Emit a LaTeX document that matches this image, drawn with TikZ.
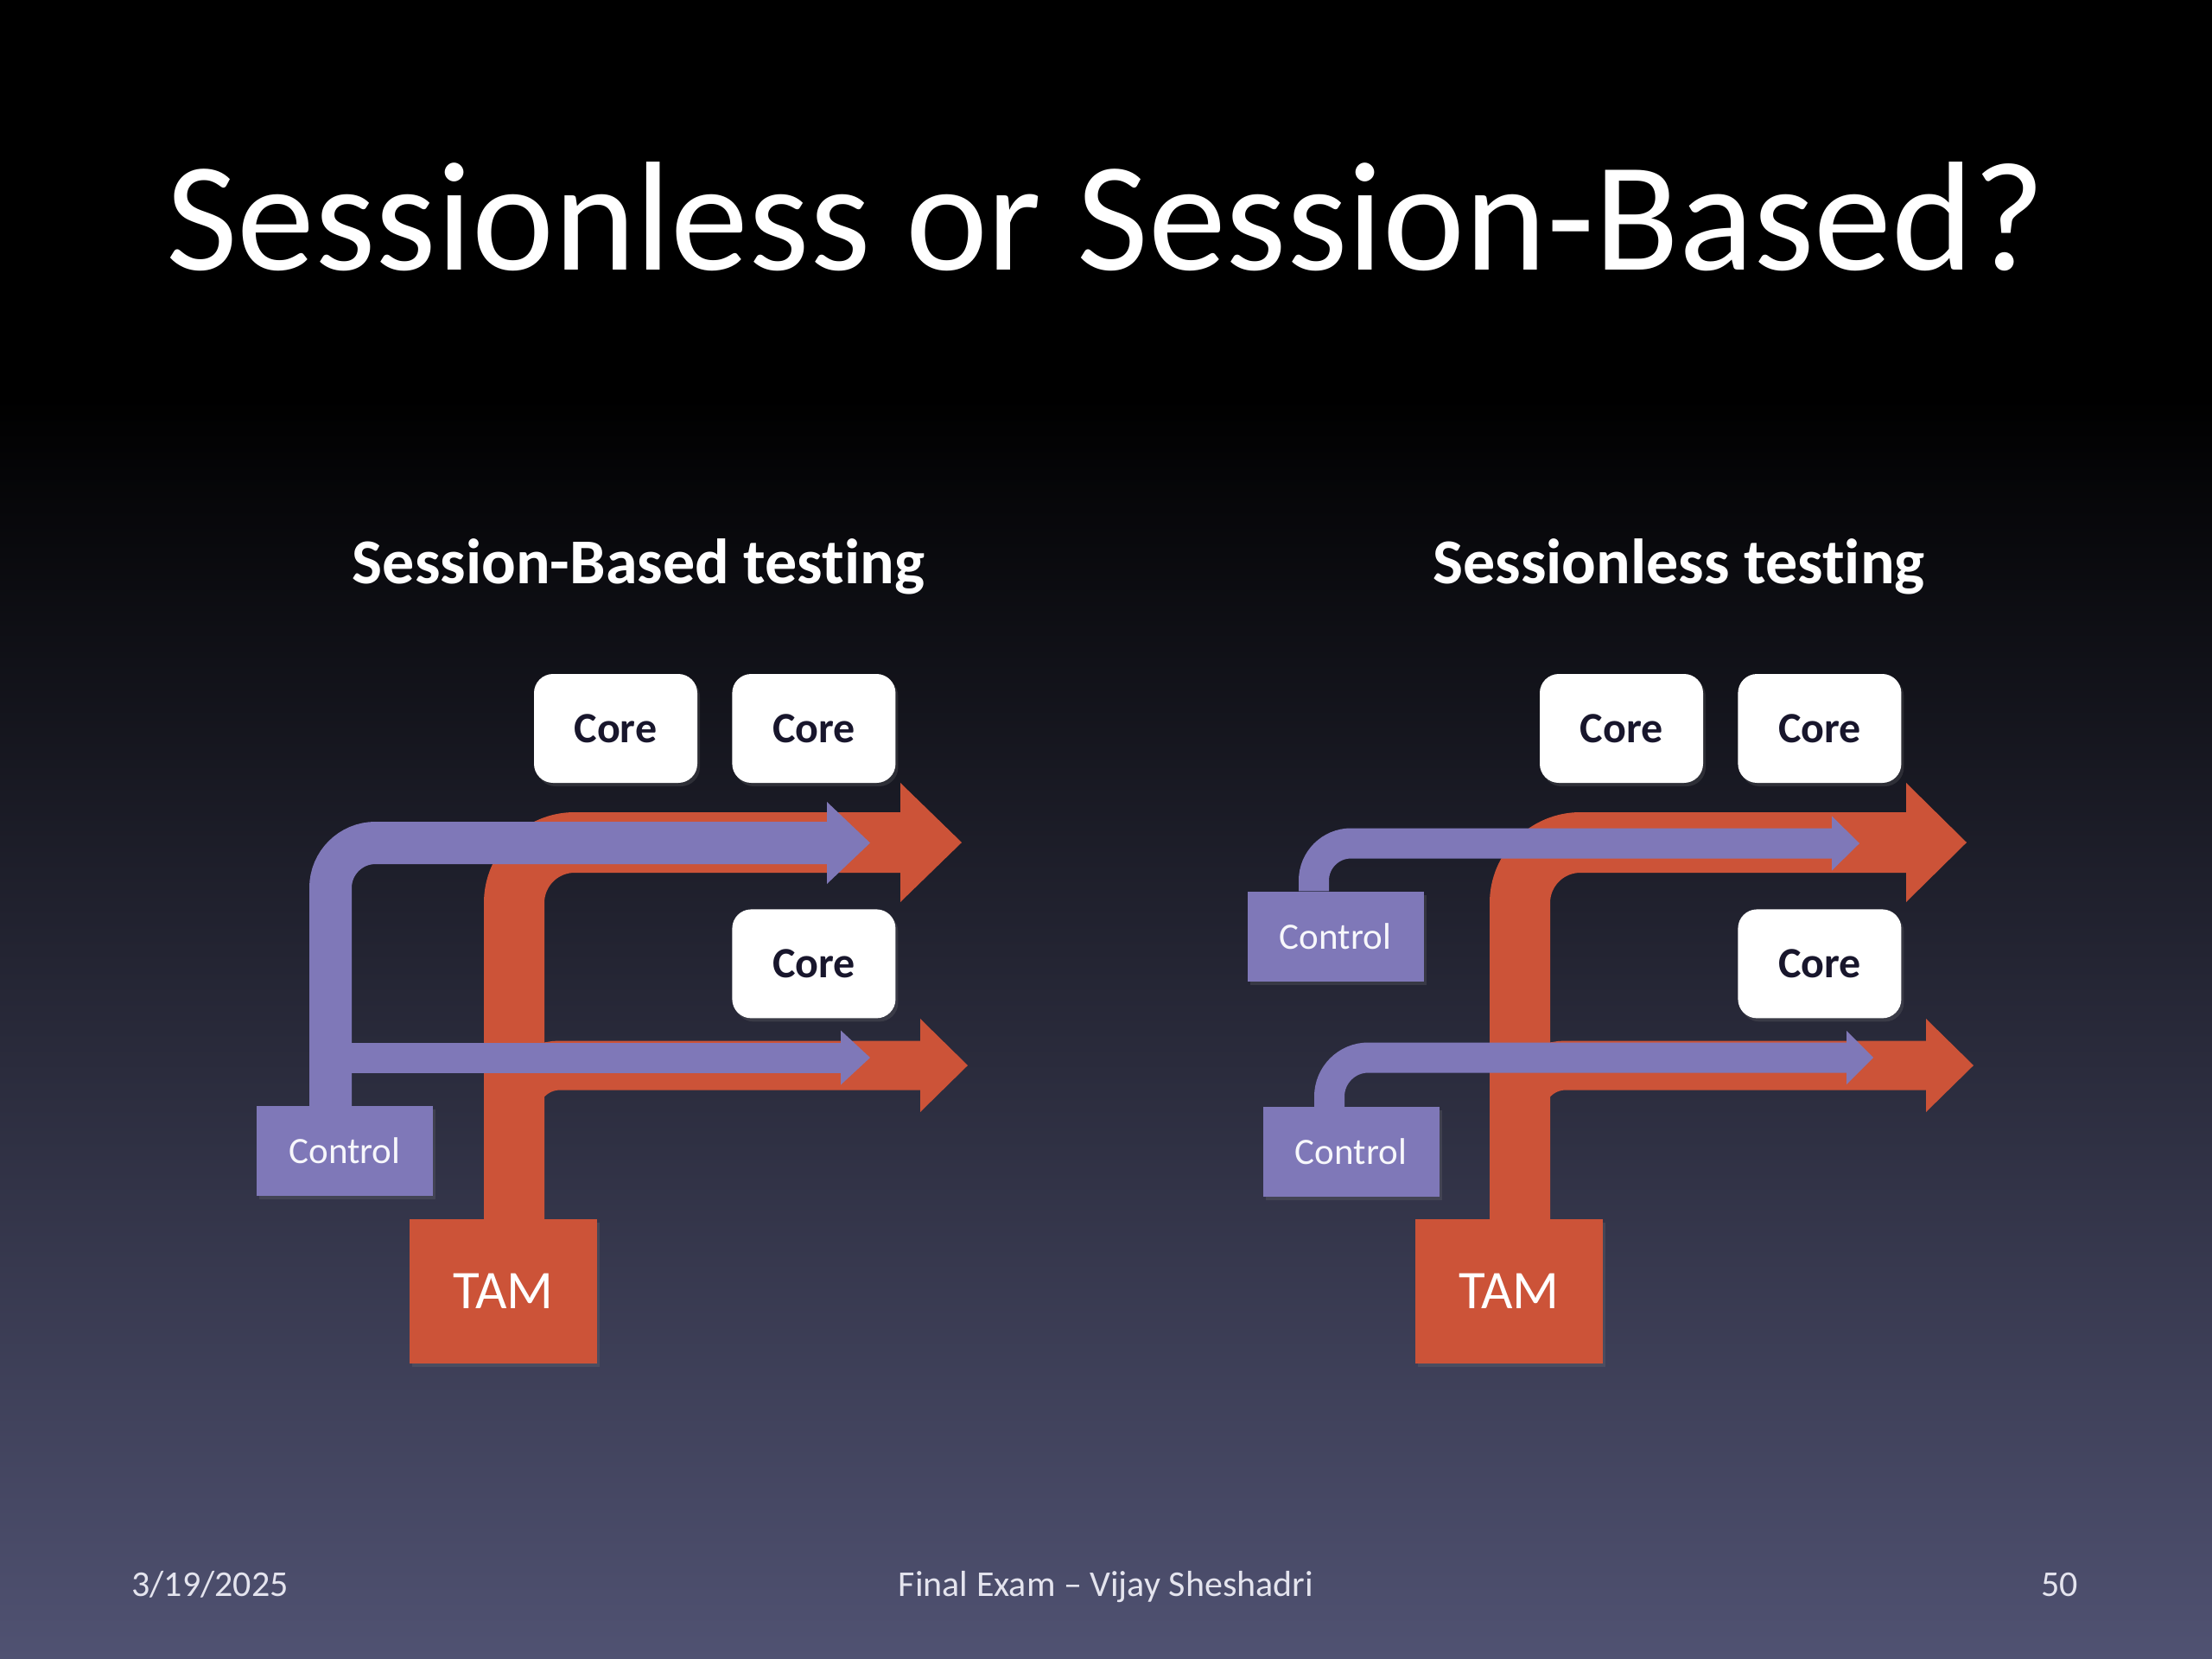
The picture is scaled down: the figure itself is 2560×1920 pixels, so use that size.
\documentclass[tikz,border=0pt]{standalone}
\usepackage{fontspec}
\setmainfont{Carlito}[Ligatures={TeX,NoCommon}]
\usetikzlibrary{positioning,shadows}

\definecolor{tamred}{RGB}{204,83,56}
\definecolor{ctrlpurple}{RGB}{127,120,184}
\definecolor{coreink}{RGB}{24,22,44}
\definecolor{slidemid}{RGB}{34,32,60}
\definecolor{slidebot}{RGB}{80,82,114}
\definecolor{footink}{RGB}{228,228,238}

\begin{document}
\begin{tikzpicture}[x=1pt, y=-1pt,
		boxshadow/.style={drop shadow={shadow xshift=3pt, shadow yshift=-4pt, opacity=0.22}},
		corebox/.style={boxshadow, fill=white, rounded corners=22pt, minimum width=189pt, minimum height=126pt,
			font=\fontsize{50}{60}\selectfont\bfseries, text=coreink},
		ctrlbox/.style={boxshadow, fill=ctrlpurple, minimum width=204pt, minimum height=104pt,
			font=\fontsize{43}{50}\selectfont, text=white!94!ctrlpurple},
		tambox/.style={boxshadow, fill=tamred, minimum width=217pt, minimum height=167pt,
			font=\fontsize{63}{72}\selectfont, text=white},
		subhead/.style={font=\fontsize{74}{84}\selectfont\bfseries, text=white, inner sep=0pt},
		foot/.style={font=\fontsize{42}{50}\selectfont, text=footink, inner sep=0pt},
		redpipe/.style={draw=tamred, shorten >=-2pt},
		purplepipe/.style={draw=ctrlpurple, shorten >=-2pt}]

		% 1. Slide background (black top, fading to slate at the bottom)
		\useasboundingbox (0,0) rectangle (2560,1920);
		\fill[black] (0,0) rectangle (2560,470);
		\shade[top color=black, middle color=slidemid, bottom color=slidebot] (0,460) rectangle (2560,1920);

		% 2. Titles
		\node[font=\fontsize{180}{196}\selectfont, text=white, anchor=base] (title) at (1280,312) {Sessionless or Session-Based?};
		\node[subhead, anchor=base] (headL) at (739,675) {Session-Based testing};
		\node[subhead, anchor=base] (headR) at (1943,675) {Sessionless testing};

		% 3. Left picture: boxes
		\node[corebox] (coreLa) at (712.5,843) {Core};
		\node[corebox, right=40pt of coreLa] (coreLb) {Core};
		\node[corebox, below=146pt of coreLb] (coreLc) {Core};
		\node[ctrlbox] (ctrlL) at (399,1332) {Control};
		\node[tambox] (tamL) at (582.5,1494.5) {TAM};

		% free ends of the left arrows
		\coordinate (redTopL) at (1042,975);
		\coordinate (redBotL) at (1065,1233);
		\coordinate (purTopL) at (957,975.5);
		\coordinate (purBotL) at (973,1224);

		% red TAM arrows
		\draw[redpipe, line width=70pt, rounded corners=70pt] ([xshift=12.5pt]tamL.north) |- (redTopL);
		\draw[redpipe, line width=57pt, rounded corners=53pt] ([xshift=12.5pt]tamL.north) |- (redBotL);
		\fill[tamred] (redTopL) ++(0,-69) -- ++(71,69) -- ++(-71,69) -- cycle;
		\fill[tamred] (redBotL) ++(0,-54) -- ++(55,54) -- ++(-55,54) -- cycle;

		% purple control arrows (one control for both)
		\draw[purplepipe, line width=49pt, rounded corners=52pt] ([xshift=-16.5pt]ctrlL.north) |- (purTopL);
		\draw[purplepipe, line width=35pt] ([xshift=-16.5pt]ctrlL.north) |- (purBotL);
		\fill[ctrlpurple] (purTopL) ++(0,-47.5) -- ++(50,47.5) -- ++(-50,47.5) -- cycle;
		\fill[ctrlpurple] (purBotL) ++(0,-31.5) -- ++(34,31.5) -- ++(-34,31.5) -- cycle;

		% 4. Right picture: boxes
		\node[corebox] (coreRa) at (1876.5,843) {Core};
		\node[corebox, right=40pt of coreRa] (coreRb) {Core};
		\node[corebox, below=146pt of coreRb] (coreRc) {Core};
		\node[ctrlbox] (ctrlRa) at (1545.5,1083.5) {Control};
		\node[ctrlbox] (ctrlRb) at (1563.5,1333) {Control};
		\node[tambox] (tamR) at (1746.5,1494.5) {TAM};

		% free ends of the right arrows
		\coordinate (redTopR) at (2206,975);
		\coordinate (redBotR) at (2229,1233);
		\coordinate (purTopR) at (2120,976);
		\coordinate (purBotR) at (2137,1224);

		% red TAM arrows
		\draw[redpipe, line width=70pt, rounded corners=70pt] ([xshift=12.5pt]tamR.north) |- (redTopR);
		\draw[redpipe, line width=57pt, rounded corners=53pt] ([xshift=12.5pt]tamR.north) |- (redBotR);
		\fill[tamred] (redTopR) ++(0,-69) -- ++(70,69) -- ++(-70,69) -- cycle;
		\fill[tamred] (redBotR) ++(0,-54) -- ++(55,54) -- ++(-55,54) -- cycle;

		% purple control arrows (one control each)
		\draw[purplepipe, line width=35pt, rounded corners=43pt] ([xshift=-25pt]ctrlRa.north) |- (purTopR);
		\draw[purplepipe, line width=35pt, rounded corners=45pt] ([xshift=-25pt]ctrlRb.north) |- (purBotR);
		\fill[ctrlpurple] (purTopR) ++(0,-31.5) -- ++(32,31.5) -- ++(-32,31.5) -- cycle;
		\fill[ctrlpurple] (purBotR) ++(0,-31) -- ++(31,31) -- ++(-31,31) -- cycle;

		% 5. Footer
		\node[foot, anchor=base west] (dateL) at (152,1847) {3/19/2025};
		\node[foot, anchor=base] (footC) at (1280,1847) {Final Exam -- Vijay Sheshadri};
		\node[foot, anchor=base east] (pageN) at (2405,1847) {50};
	\end{tikzpicture}
\end{document}
